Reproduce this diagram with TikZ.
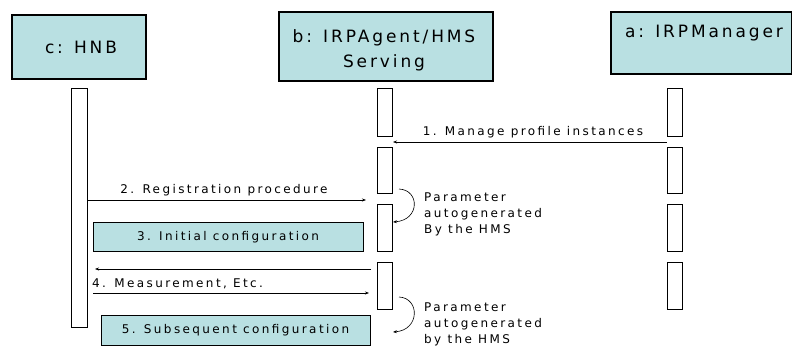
\documentclass[tikz,border=0pt]{standalone}
\usepackage{fontspec}
\setmainfont{DejaVu Sans}[LetterSpace=17]
\newfontfamily\smallfam{DejaVu Sans}[LetterSpace=20]
\usetikzlibrary{arrows.meta}
\definecolor{boxfill}{RGB}{185,224,226}
\tikzset{
  obj/.style={draw=black, line width=1.3pt, fill=boxfill},
  bar/.style={draw=black, line width=1pt, fill=white},
  msg/.style={line width=0.6pt, -{Stealth[length=4pt,width=3pt]}},
  lbl/.style={font=\smallfam\fontsize{12}{13}\selectfont, inner sep=0pt},
  head/.style={font=\fontsize{17}{24.5}\selectfont, inner sep=0pt, align=center},
  note/.style={font=\smallfam\fontsize{12}{16}\selectfont, inner sep=0pt, align=left, anchor=north west}
}
\begin{document}
\begin{tikzpicture}[x=1pt,y=-1pt]
\useasboundingbox (0,0) rectangle (792,347);
% object boxes
\draw[obj] (12,15) rectangle (146,79);
\node[head] (c) at (81,47) {c: HNB};
\draw[obj] (279,12) rectangle (493,81);
\node[head] (b) at (384,50.5) {b: IRPAgent/HMS\\Serving};
\draw[obj] (611,12) rectangle (792,74);
\node[head] (a) at (704,33) {a: IRPManager};
% activation bars
\node[bar, minimum width=16pt, minimum height=238pt, inner sep=0pt] (cbar) at (79,208) {};
\foreach \n/\ya/\yb in {1/89/137, 2/148/194, 3/205/252, 4/263/309} {
  \node[bar, minimum width=15pt, minimum height={\yb-\ya}, inner sep=0pt] (b\n) at (385,{(\ya+\yb)/2}) {};
  \node[bar, minimum width=15pt, minimum height={\yb-\ya}, inner sep=0pt] (a\n) at (674.5,{(\ya+\yb)/2}) {};
}
% message 1
\coordinate (m1s) at (a1.west |- 0,142);
\coordinate (m1e) at (b1.east |- 0,142);
\draw[msg] (m1s) -- (m1e);
\node[lbl] (l1) at (533,132) {1. Manage profile instances};
% message 2
\coordinate (m2s) at (cbar.east |- 0,200);
\coordinate (m2e) at (366,200);
\draw[msg] (m2s) -- (m2e);
\node[lbl] (l2) at (224,190) {2. Registration procedure};
% box 3
\node[obj, line width=1pt, minimum width=270pt, minimum height=29pt, inner sep=0pt, font=\smallfam\fontsize{12}{13}\selectfont] (s3) at (228,237.5) {3. Initial configuration};
% return arrow
\coordinate (r1s) at (371,269);
\coordinate (r1e) at (95,269);
\draw[msg] (r1s) -- (r1e);
% message 4
\coordinate (m4s) at (93,293);
\coordinate (m4e) at (369,293);
\draw[msg] (m4s) -- (m4e);
\node[lbl, anchor=west] (l4) at (92,284) {4. Measurement, Etc.};
% box 5
\node[obj, line width=1pt, minimum width=269pt, minimum height=30pt, inner sep=0pt, font=\smallfam\fontsize{12}{13}\selectfont] (s5) at (235.5,330) {5. Subsequent configuration};
% self arrows
\coordinate (p1s) at (399,189);
\coordinate (p1e) at (b3.east |- 0,222);
\draw[line width=0.6pt, -{Stealth[length=4pt,width=3pt]}] (p1s) .. controls (420,190) and (420,220) .. (p1e);
\node[note] (n1) at (424,193) {Parameter\\autogenerated\\By the HMS};
\coordinate (p2s) at (399,297);
\coordinate (p2e) at (393,332);
\draw[line width=0.6pt, -{Stealth[length=4pt,width=3pt]}] (p2s) .. controls (420,298) and (420,330) .. (p2e);
\node[note] (n2) at (424,303) {Parameter\\autogenerated\\by the HMS};
\end{tikzpicture}
\end{document}
